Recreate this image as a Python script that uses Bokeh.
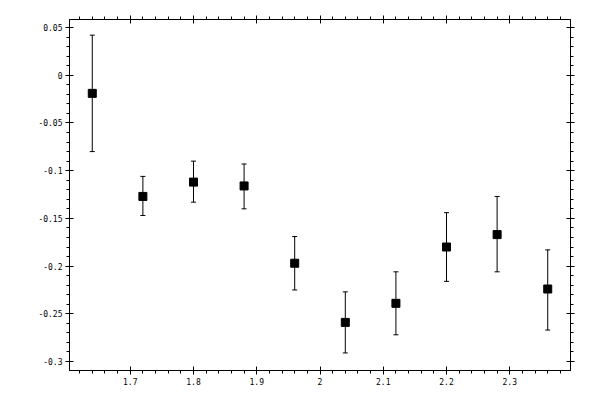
from bokeh.plotting import figure
from bokeh.models import (ColumnDataSource, Whisker, TeeHead, LinearAxis,
                          SingleIntervalTicker, CustomJSTickFormatter, Range1d)
from bokeh.embed import file_html
from bokeh.resources import INLINE

x_vals = [1.64, 1.72, 1.80, 1.88, 1.96, 2.04, 2.12, 2.20, 2.28, 2.36]
y_vals = [-0.019, -0.127, -0.112, -0.116, -0.197, -0.259, -0.239, -0.180, -0.167, -0.224]
y_upper = [0.042, -0.106, -0.090, -0.093, -0.169, -0.227, -0.206, -0.144, -0.127, -0.183]
y_lower = [-0.080, -0.147, -0.133, -0.140, -0.225, -0.291, -0.272, -0.216, -0.206, -0.267]

FONT = "DejaVu Sans Mono"

src = ColumnDataSource(dict(x=x_vals, y=y_vals, up=y_upper, lo=y_lower))

p = figure(width=584, height=384, output_backend="svg", toolbar_location=None,
           x_range=Range1d(1.604, 2.396), y_range=Range1d(-0.3094, 0.0584),
           x_axis_location=None, y_axis_location=None,
           frame_width=501, frame_height=351,
           min_border_left=69, min_border_top=19, min_border_right=10, min_border_bottom=14)
p.grid.visible = False
p.outline_line_color = "black"
p.outline_line_width = 1
p.background_fill_color = "white"
p.border_fill_color = "white"

fmt = CustomJSTickFormatter(code="return String(parseFloat(tick.toFixed(4)));")
empty = CustomJSTickFormatter(code="return '';")

def style(ax, labels):
    ax.axis_line_color = "black"
    ax.major_tick_line_color = "black"
    ax.minor_tick_line_color = "black"
    ax.major_tick_in = 4
    ax.major_tick_out = 4
    ax.minor_tick_in = 0
    ax.minor_tick_out = 3
    ax.major_label_text_font = FONT
    ax.major_label_text_font_size = "8px"
    ax.major_label_text_color = "black"
    ax.major_label_standoff = 3
    if not labels:
        ax.major_label_text_font_size = "1px"
        ax.major_label_standoff = 0

for loc in ["below", "above"]:
    ax = LinearAxis(ticker=SingleIntervalTicker(interval=0.1, num_minor_ticks=5),
                    formatter=fmt if loc == "below" else empty)
    style(ax, loc == "below")
    p.add_layout(ax, loc)

for loc in ["left", "right"]:
    ax = LinearAxis(ticker=SingleIntervalTicker(interval=0.05, num_minor_ticks=5),
                    formatter=fmt if loc == "left" else empty)
    style(ax, loc == "left")
    p.add_layout(ax, loc)

w = Whisker(source=src, base="x", upper="up", lower="lo", line_color="black", line_width=1,
            upper_head=TeeHead(size=5, line_color="black", line_width=1),
            lower_head=TeeHead(size=5, line_color="black", line_width=1))
p.add_layout(w)

p.scatter("x", "y", source=src, marker="square", size=8, fill_color="black", line_color="black")

open("out.html", "w").write(file_html(p, INLINE))
